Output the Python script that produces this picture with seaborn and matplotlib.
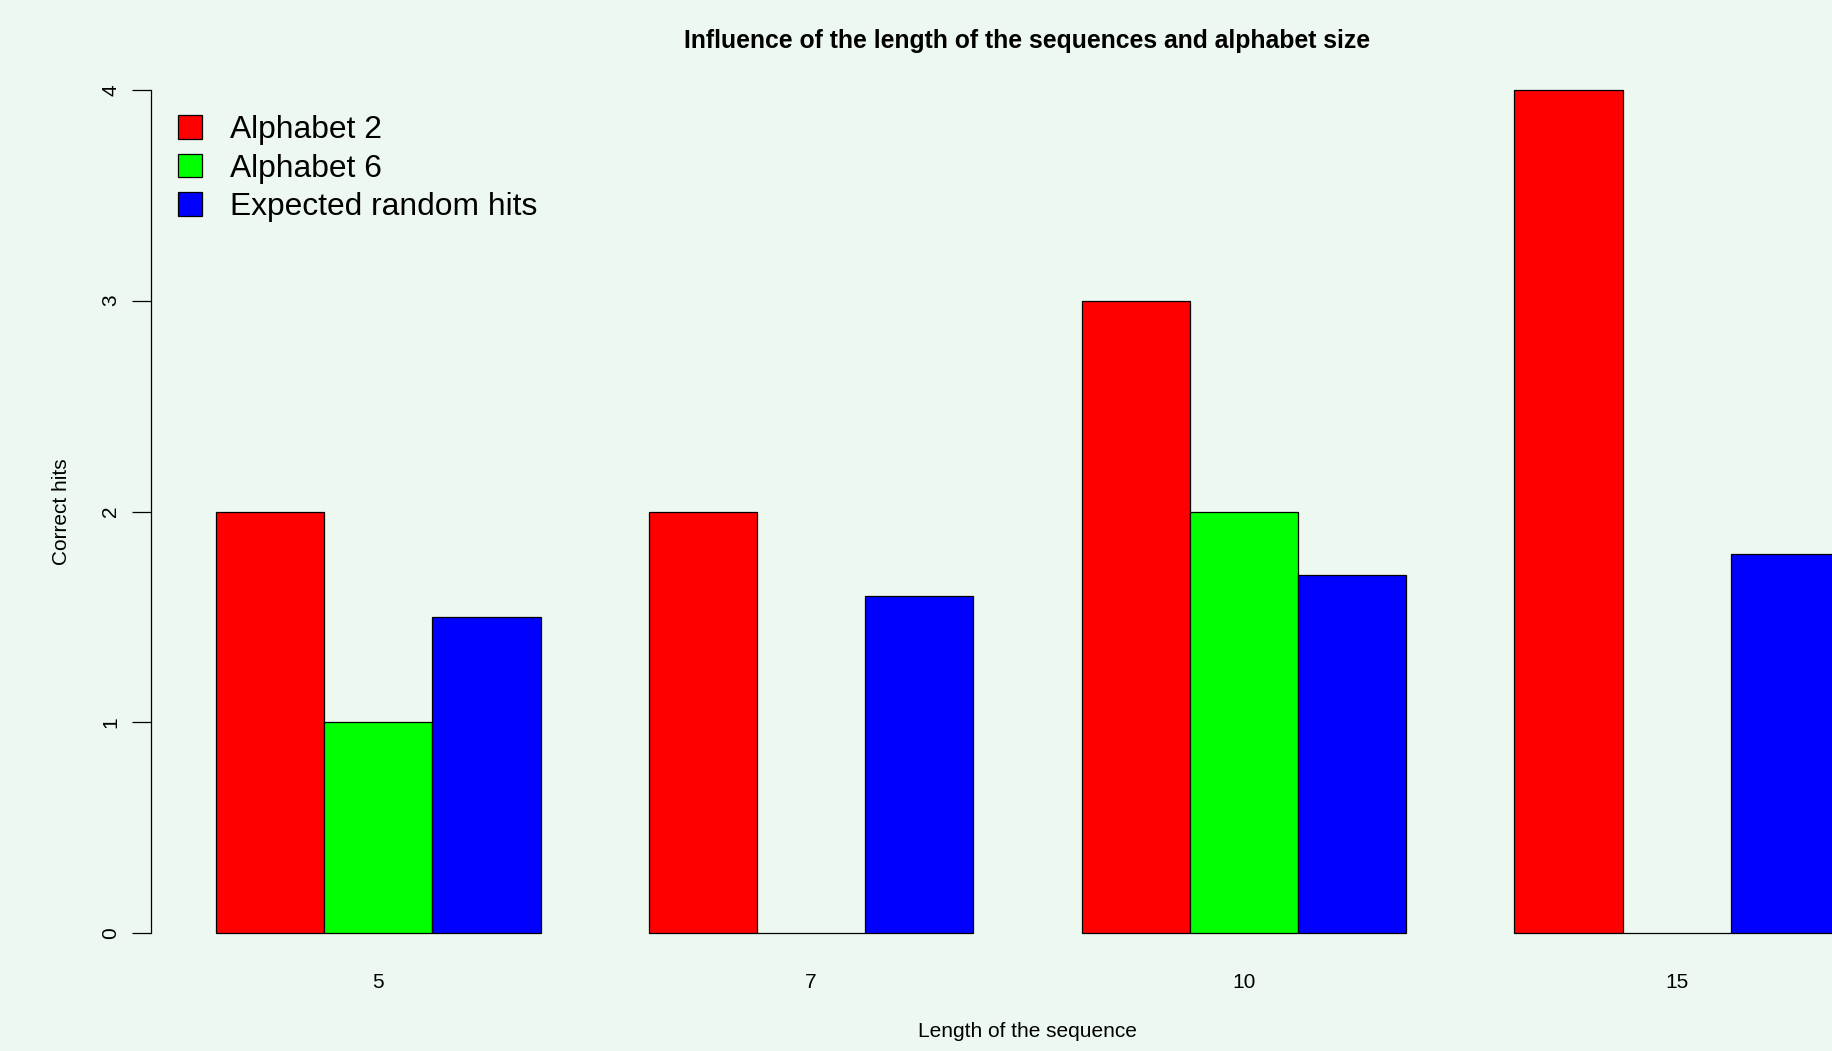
import matplotlib
matplotlib.use("Agg")
import matplotlib.pyplot as plt
import seaborn as sns
import pandas as pd

lengths = ["5", "7", "10", "15"]
series_names = ["Alphabet 2", "Alphabet 6", "Expected random hits"]
alphabet2 = [2, 2, 3, 4]
alphabet6 = [1, 0, 2, 0]
expected = [1.5, 1.6, 1.7, 1.8]
colors = ["#FF0000", "#00FF00", "#0000FF"]
yticks = [0, 1, 2, 3, 4]

rows = []
for name, vals in zip(series_names, [alphabet2, alphabet6, expected]):
    for l, v in zip(lengths, vals):
        rows.append({"length": l, "series": name, "hits": v})
df = pd.DataFrame(rows)

sns.set_style("white")
plt.rcParams["font.family"] = ["Liberation Sans", "DejaVu Sans"]
plt.rcParams["text.color"] = "black"
plt.rcParams["axes.labelcolor"] = "black"
plt.rcParams["xtick.color"] = "black"
plt.rcParams["ytick.color"] = "black"
bg = "#ECF8F0"

fig = plt.figure(figsize=(18.33, 10.51), dpi=100, facecolor=bg)
W, H = 1833, 1051
left_px, right_px = 151, 1904
top_px, bottom_px = 56, 967
ax = fig.add_axes([left_px / W, 1 - bottom_px / H, (right_px - left_px) / W, (bottom_px - top_px) / H])
ax.set_facecolor(bg)

sns.barplot(data=df, x="length", y="hits", hue="series", order=lengths,
            hue_order=series_names, palette=colors, saturation=1, width=0.75,
            edgecolor="black", linewidth=0.9, ax=ax, legend=True)

ax.set_xlim(-0.525, 3.525)
ax.set_ylim(-0.16, 4.16)
for s in ["top", "right", "bottom"]:
    ax.spines[s].set_visible(False)
ax.spines["left"].set_bounds(0, 4)
ax.spines["left"].set_color("black")
ax.spines["left"].set_linewidth(0.9)
ax.set_yticks(yticks)
ax.set_yticklabels([str(t) for t in yticks], rotation=90, va="center", fontsize=15)
ax.tick_params(axis="y", length=14, width=0.9, color="black", pad=8, left=True)
ax.tick_params(axis="x", length=0, pad=4, labelsize=15)

ax.set_xlabel("Length of the sequence", fontsize=15, labelpad=22)
ax.set_ylabel("Correct hits", fontsize=15, labelpad=22)
ax.set_title("Influence of the length of the sequences and alphabet size",
             fontsize=17.8, fontweight="bold", pad=6)

handles, labels = ax.get_legend_handles_labels()
ax.legend(handles, labels, loc="upper left", bbox_to_anchor=(178 / W, 1 - 115 / H),
          bbox_transform=fig.transFigure, frameon=False, fontsize=22.9,
          handlelength=0.75, handleheight=0.75, handletextpad=0.9, labelspacing=0.27,
          borderpad=0, borderaxespad=0)

fig.savefig("out.png", dpi=100, facecolor=bg)
